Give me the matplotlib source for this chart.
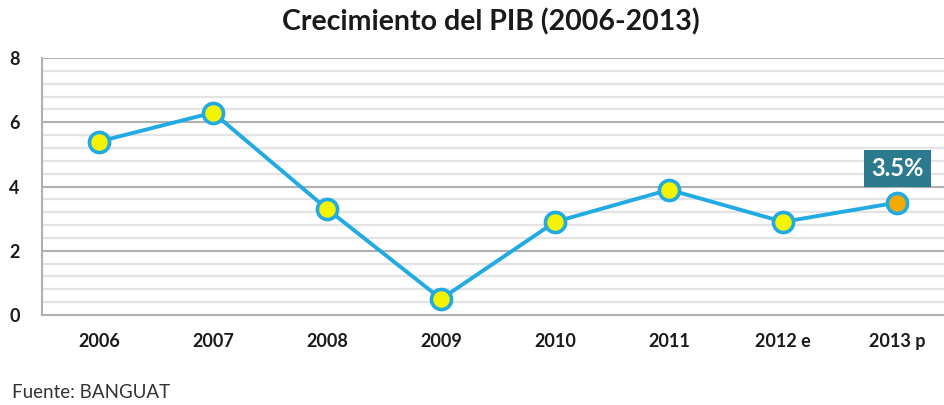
import numpy as np
import matplotlib.pyplot as plt

# Data
years = ['2006', '2007', '2008', '2009', '2010', '2011', '2012 e', '2013 p']
growth = [5.4, 6.3, 3.3, 0.5, 2.9, 3.9, 2.9, 3.5]
y_ticks = [0, 2, 4, 6, 8]

plt.rcParams['font.family'] = ['Lato', 'DejaVu Sans']

fig = plt.figure(figsize=(9.44, 4.05), dpi=100)
ax = fig.add_axes([42 / 944, 90 / 405, 902 / 944, 257 / 405])

x = np.arange(len(years))

# minor grid every 0.4, major grid every 2
for yv in np.arange(0.4, 8.0, 0.4):
    ax.axhline(yv, color='#e3e3e3', lw=1.6, zorder=0)
for yv in y_ticks[1:]:
    ax.axhline(yv, color='#a6a6a6', lw=1.2, zorder=1)

ax.plot(x, growth, color='#22aae2', lw=2.8, zorder=3)
ax.scatter(x[:-1], growth[:-1], s=210, facecolor='#f4f400', edgecolor='#22aae2',
           linewidth=2.6, zorder=4)
ax.scatter(x[-1:], growth[-1:], s=210, facecolor='#f2a900', edgecolor='#22aae2',
           linewidth=2.6, zorder=4)

ax.annotate('3.5%', xy=(x[-1], growth[-1]), xytext=(0, 16), textcoords='offset points',
            ha='center', va='bottom', fontsize=17, fontweight='bold', color='white',
            bbox=dict(boxstyle='square,pad=0.3', facecolor='#2b7a8e', edgecolor='none'))

ax.set_xlim(-0.5, 7.41)
ax.set_ylim(0, 8)
ax.set_xticks(x)
ax.set_xticklabels(years, fontsize=13, fontweight='bold', color='#1a1a1a')
ax.set_yticks(y_ticks)
ax.set_yticklabels([str(v) for v in y_ticks], fontsize=13, fontweight='bold', color='#1a1a1a')
ax.tick_params(axis='x', length=0, pad=13)
ax.tick_params(axis='y', length=0, pad=16)

for side in ['top', 'right']:
    ax.spines[side].set_visible(False)
ax.spines['left'].set_color('#b0b0b0')
ax.spines['bottom'].set_color('#b0b0b0')
ax.spines['left'].set_linewidth(1.5)
ax.spines['bottom'].set_linewidth(1.5)
ax.axhline(8, color='#b0b0b0', lw=1.5, zorder=1)

fig.text(491 / 944, 1 - 22 / 405, 'Crecimiento del PIB (2006-2013)', ha='center', va='center',
         fontsize=20.5, fontweight='bold', color='#1a1a1a')
fig.text(12 / 944, 1 - 393 / 405, 'Fuente: BANGUAT', ha='left', va='center',
         fontsize=13.5, color='#333333')

fig.savefig('out.png', dpi=100)
